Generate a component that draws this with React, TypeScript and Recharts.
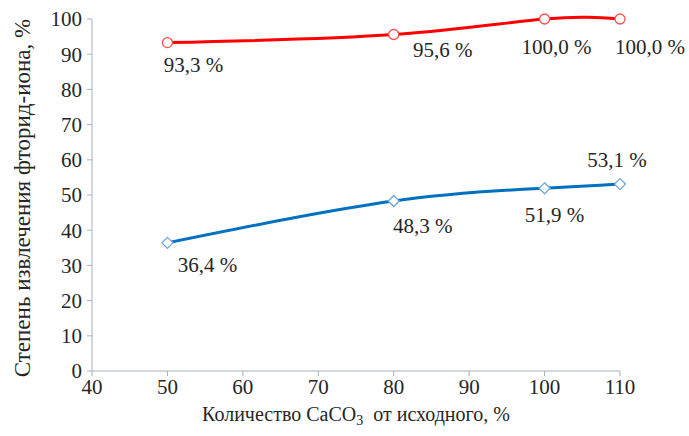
import React from "react";
import { LineChart, Line, XAxis, YAxis, LabelList } from "recharts";

const categories = [50, 80, 100, 110];
const redValues = [93.3, 95.6, 100.0, 100.0];
const blueValues = [36.4, 48.3, 51.9, 53.1];
const xTicks = [40, 50, 60, 70, 80, 90, 100, 110];
const yTicks = [0, 10, 20, 30, 40, 50, 60, 70, 80, 90, 100];

const redLabelOffsets = [
  [26, 22],
  [49, 16],
  [12, 28],
  [30, 28],
];
const blueLabelOffsets = [
  [40, 22],
  [29, 25],
  [10, 27],
  [-3, -24],
];

const data = categories.map((c, i) => ({ x: c, red: redValues[i], blue: blueValues[i] }));

const FONT = "Liberation Serif";
const TEXT = "#262626";
const AXIS = "#a9b1b8";

const fmt = (v: number) => v.toFixed(1).replace(".", ",") + " %";

const makeLabel = (offsets: number[][]) => (props: any) => {
  const { x, y, value, index } = props;
  const [dx, dy] = offsets[index] || [0, 0];
  return (
    <text
      x={x + dx}
      y={y + dy}
      textAnchor="middle"
      dominantBaseline="central"
      fontFamily={FONT}
      fontSize={21}
      fill={TEXT}
    >
      {fmt(value)}
    </text>
  );
};

const Diamond = (props: any) => {
  const { cx, cy } = props;
  if (cx == null || cy == null) return null;
  const r = 5.5;
  return (
    <path
      d={`M${cx},${cy - r}L${cx + r},${cy}L${cx},${cy + r}L${cx - r},${cy}Z`}
      fill="#ffffff"
      stroke="#6fa8dc"
      strokeWidth={1.3}
    />
  );
};

const Circle = (props: any) => {
  const { cx, cy } = props;
  if (cx == null || cy == null) return null;
  return <circle cx={cx} cy={cy} r={5} fill="#ffffff" stroke="#ff5050" strokeWidth={1.3} />;
};

export default function App() {
  return (
    <div style={{ position: "absolute", left: 0, top: 0, width: 689, height: 436, background: "#fff" }}>
      <LineChart
        width={689}
        height={436}
        data={data}
        margin={{ top: 19, right: 69, bottom: 0, left: 0 }}
      >
        <XAxis
          dataKey="x"
          type="number"
          domain={[40, 110]}
          ticks={xTicks}
          interval={0}
          height={65}
          stroke={AXIS}
          tickLine={{ stroke: AXIS }}
          tickSize={5}
          tickMargin={3}
          tick={{ fontFamily: FONT, fontSize: 21, fill: TEXT }}
          label={(p: any) => {
            const vb = p.viewBox;
            const cx = vb.x + vb.width / 2;
            return (
              <text x={cx} y={421} textAnchor="middle" fontFamily={FONT} fontSize={20} fill={TEXT}>
                Количество CaCO
                <tspan fontSize={14} dy={4}>3</tspan>
                <tspan dy={-4}>{"\u00a0\u00a0от исходного, %"}</tspan>
              </text>
            );
          }}
        />
        <YAxis
          type="number"
          domain={[0, 100]}
          ticks={yTicks}
          interval={0}
          width={92}
          stroke={AXIS}
          tickLine={{ stroke: AXIS }}
          tickSize={5}
          tickMargin={5}
          tick={{ fontFamily: FONT, fontSize: 21, fill: TEXT }}
          label={(p: any) => {
            const vb = p.viewBox;
            const cy = vb.y + vb.height / 2 + 3;
            return (
              <text
                x={22}
                y={cy}
                transform={`rotate(-90, 22, ${cy})`}
                textAnchor="middle"
                dominantBaseline="central"
                fontFamily={FONT}
                fontSize={23}
                fill={TEXT}
              >
                Степень извлечения фторид-иона, %
              </text>
            );
          }}
        />
        <Line
          dataKey="red"
          type="natural"
          stroke="#ff0000"
          strokeWidth={3}
          dot={<Circle />}
          activeDot={false}
          isAnimationActive={false}
        >
          <LabelList dataKey="red" content={makeLabel(redLabelOffsets)} />
        </Line>
        <Line
          dataKey="blue"
          type="natural"
          stroke="#0070c0"
          strokeWidth={3}
          dot={<Diamond />}
          activeDot={false}
          isAnimationActive={false}
        >
          <LabelList dataKey="blue" content={makeLabel(blueLabelOffsets)} />
        </Line>
      </LineChart>
    </div>
  );
}
